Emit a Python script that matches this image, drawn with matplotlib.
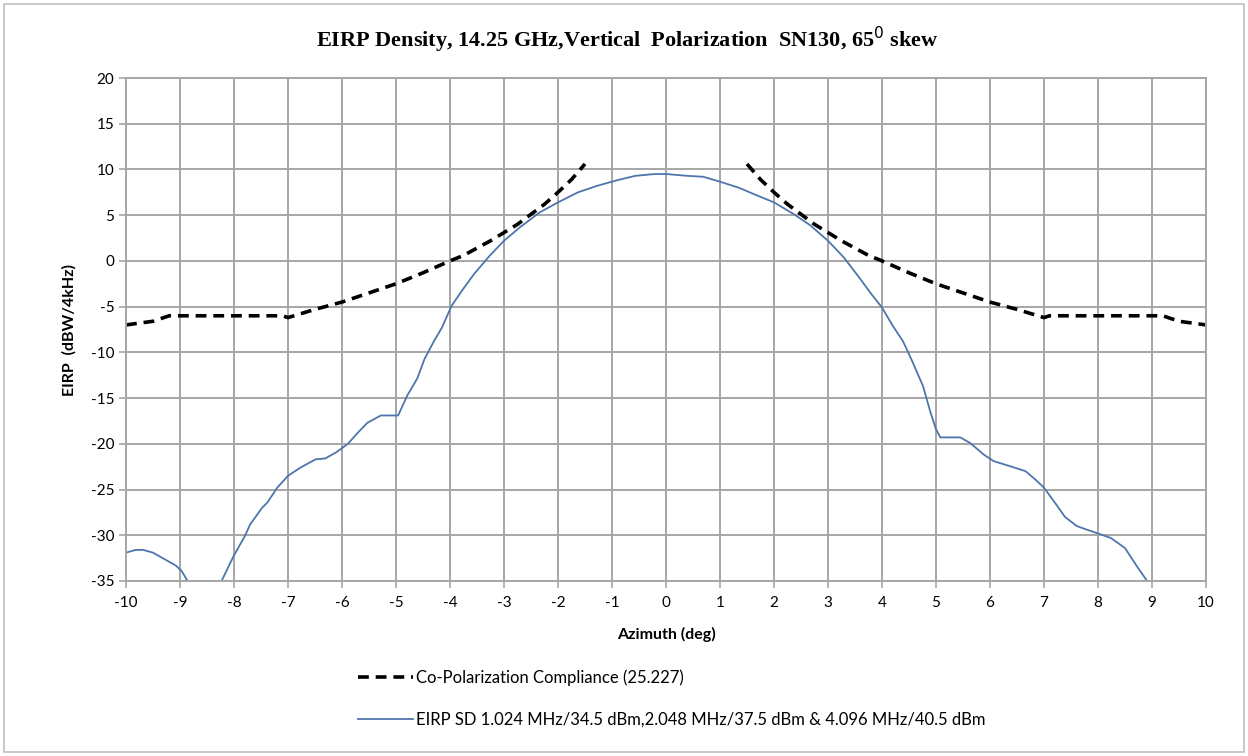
import numpy as np
import matplotlib
matplotlib.use("Agg")
import matplotlib.pyplot as plt
from matplotlib.patches import Rectangle

# ---- data ----
x_ticks = list(range(-10, 11))
y_ticks = list(range(-35, 21, 5))

mask_az = [-10, -9.5, -9.2, -9, -8, -7.1, -7, -6.5, -6, -5.5, -5, -4.5, -4, -3.75, -3.5, -3.25,
           -3, -2.75, -2.5, -2.25, -2, -1.75, -1.5,
           1.5, 1.75, 2, 2.25, 2.5, 2.75, 3, 3.25, 3.5, 3.75, 4, 4.5, 5, 5.5, 6, 6.5, 7,
           7.1, 8, 9, 9.2, 9.5, 10]
mask_val = [-7.0, -6.6, -6.0, -6.0, -6.0, -6.0, -6.2, -5.3, -4.5, -3.5, -2.5, -1.3, 0.0, 0.6, 1.4, 2.2,
            3.1, 4.0, 5.1, 6.2, 7.5, 8.9, 10.6,
            10.6, 8.9, 7.5, 6.2, 5.1, 4.0, 3.1, 2.2, 1.4, 0.6, 0.0, -1.3, -2.5, -3.5, -4.5, -5.3, -6.2,
            -6.0, -6.0, -6.0, -6.0, -6.6, -7.0]

eirp_az = [-10, -9.82, -9.68, -9.5, -9.29, -9.08, -8.97, -8.87, -8.6, -8.23, -8.01, -7.8, -7.7,
           -7.48, -7.38, -7.2, -7.0, -6.77, -6.49, -6.31, -6.1, -5.89, -5.71, -5.53, -5.28,
           -4.96, -4.79, -4.61, -4.47, -4.29, -4.15, -3.97, -3.76, -3.55, -3.26, -3.0, -2.7,
           -2.34, -2.0, -1.63, -1.28, -0.92, -0.57, -0.21, 0.0, 0.4, 0.69, 0.98, 1.35, 1.71,
           2.0, 2.37, 2.67, 3.0, 3.29, 3.55, 3.8, 4.0, 4.2, 4.39, 4.57, 4.76, 4.9, 5.0, 5.08,
           5.45, 5.63, 5.89, 6.07, 6.4, 6.66, 6.84, 7.0, 7.21, 7.39, 7.61, 7.8, 8.0, 8.24, 8.5,
           8.71, 8.91, 9.1]
eirp_val = [-31.9, -31.6, -31.6, -31.9, -32.6, -33.3, -33.9, -34.9, -37.0, -35.0, -32.3, -30.1,
            -28.8, -27.0, -26.4, -24.8, -23.5, -22.6, -21.7, -21.6, -20.9, -20.0, -18.8, -17.7,
            -16.9, -16.9, -14.7, -12.9, -10.7, -8.7, -7.3, -4.9, -3.1, -1.4, 0.6, 2.2, 3.7, 5.3,
            6.4, 7.5, 8.2, 8.8, 9.3, 9.5, 9.5, 9.3, 9.2, 8.7, 8.0, 7.1, 6.4, 5.1, 3.9, 2.2, 0.4,
            -1.6, -3.6, -5.1, -7.1, -8.8, -11.1, -13.7, -16.6, -18.4, -19.3, -19.3, -19.9, -21.2,
            -21.9, -22.5, -23.0, -23.9, -24.8, -26.5, -28.0, -29.0, -29.4, -29.8, -30.3, -31.4,
            -33.3, -35.0, -37.0]

mask_label = "Co-Polarization Compliance (25.227)"
eirp_label = "EIRP SD 1.024 MHz/34.5 dBm,2.048 MHz/37.5 dBm & 4.096 MHz/40.5 dBm"
title = "EIRP Density, 14.25 GHz,Vertical  Polarization  SN130, 65$^{0}$ skew"

plt.rcParams['font.family'] = ['Lato', 'DejaVu Sans']
plt.rcParams['axes.unicode_minus'] = False

fig = plt.figure(figsize=(12.48, 7.56), dpi=100)
fig.patches.append(Rectangle((4/1248, 4/756), 1240/1248, 748/756, transform=fig.transFigure,
                             fill=False, edgecolor='#bfbfbf', linewidth=1.2))

ax = fig.add_axes([126/1248, 1 - 581/756, 1080/1248, 503/756])

# split mask at the gap
mask_az_arr = np.array(mask_az, dtype=float)
mask_val_arr = np.array(mask_val, dtype=float)
gap = np.where(np.diff(mask_az_arr) > 1.0)[0][0] + 1
mx = np.insert(mask_az_arr, gap, np.nan)
my = np.insert(mask_val_arr, gap, np.nan)

ax.plot(mx, my, color='black', linewidth=2.6, dashes=(3, 1.9), label=mask_label)
ax.plot(eirp_az, eirp_val, color='#4f75ad', linewidth=1.3, label=eirp_label)

ax.set_xlim(-10, 10)
ax.set_ylim(-35, 20)
ax.set_xticks(x_ticks)
ax.set_yticks(y_ticks)
ax.grid(True, color='#a6a6a6', linewidth=1.4)
ax.set_axisbelow(True)
for s in ax.spines.values():
    s.set_color('#a6a6a6')
    s.set_linewidth(1.4)
ax.tick_params(axis='both', colors='#a6a6a6', length=5, width=1.2, labelsize=11,
               labelcolor='black')
ax.tick_params(axis='x', pad=6)

ax.set_xlabel("Azimuth (deg)", fontsize=11.5, fontweight='bold', labelpad=12)
ax.set_ylabel("EIRP  (dBW/4kHz)", fontsize=11.5, fontweight='bold', labelpad=10)

fig.text(627/1248, 1 - 40/756, title, ha='center', va='center', fontsize=16,
         fontweight='bold', family=['Liberation Serif'])

fig.legend(loc='upper left', bbox_to_anchor=(343/1248, 1 - 654/756), frameon=False,
           fontsize=12, labelspacing=1.55, handlelength=3.3, handletextpad=0.15)

fig.savefig("out.png", dpi=100)
